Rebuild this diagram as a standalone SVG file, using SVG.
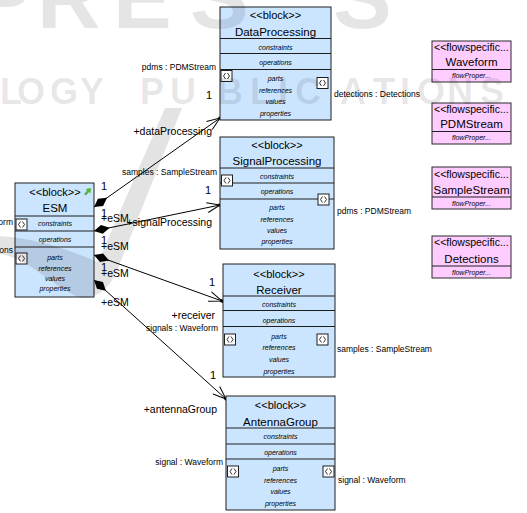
<svg xmlns="http://www.w3.org/2000/svg" width="527" height="513" viewBox="0 0 527 513">
  <style>
    .blk { fill: #cce5ff; stroke: #1e1e1e; stroke-width: 1; }
    .flow { fill: #ffccff; stroke: #2a2a2a; stroke-width: 1; }
    .sep { fill: none; stroke: #1e1e1e; stroke-width: 1; }
    .port { fill: #ffffff; stroke: #1e1e1e; stroke-width: 1; }
    .glyph { fill: none; stroke: #1e1e1e; stroke-width: 0.9; }
    text { font-family: "Liberation Sans", Arial, sans-serif; fill: #000; }
    .st { font-size: 11px; text-anchor: middle; }
    .nm { font-size: 11.5px; text-anchor: middle; }
    .cmp { font-size: 7px; font-style: italic; text-anchor: middle; }
    .role { font-size: 10.5px; }
    .mult { font-size: 11px; text-anchor: middle; }
    .pl { font-size: 8.5px; }
    .end { text-anchor: end; }
    .fs { font-size: 10.5px; }
    .conn { fill: none; stroke: #000; stroke-width: 1; }
    .wm { fill: #000; fill-opacity: 0.11; }
    .wmt { font-weight: bold; fill: #000; fill-opacity: 0.1; }
  </style>
  <defs>
    <!-- composite aggregation diamond at the whole end -->
    <marker id="diamond" viewBox="0 -5 16 10" refX="0" refY="0" markerWidth="16" markerHeight="10" markerUnits="userSpaceOnUse" orient="auto">
      <path d="M0,0 L8,-4.5 L16,0 L8,4.5 Z" fill="#000"/>
    </marker>
    <!-- open navigable arrow with anchor dot -->
    <marker id="open" viewBox="-15 -7 17 14" refX="0" refY="0" markerWidth="17" markerHeight="14" markerUnits="userSpaceOnUse" orient="auto">
      <path d="M-13,-5 L0,0 L-13,5" fill="none" stroke="#000" stroke-width="1"/>
      <rect x="-1.5" y="-1.5" width="3" height="3" fill="#000"/>
    </marker>
    <!-- flow port symbol -->
    <g id="port">
      <rect class="port" x="0" y="0" width="11" height="11"/>
      <path class="glyph" d="M4.5,2.5 L2.5,5.5 L4.5,8.5 M6.5,2.5 L8.5,5.5 L6.5,8.5"/>
    </g>
    <clipPath id="flowclip"><rect x="0" y="0" width="79" height="28"/></clipPath>
  </defs>

  <!-- connectors: part compositions from ESM -->
  <g id="connectors">
    <path class="conn" d="M94,207 L220,118" marker-start="url(#diamond)" marker-end="url(#open)"/>
    <path class="conn" d="M94,231 L220,205" marker-start="url(#diamond)" marker-end="url(#open)"/>
    <path class="conn" d="M94,255 L222,301" marker-start="url(#diamond)" marker-end="url(#open)"/>
    <path class="conn" d="M94,280 L226,399" marker-start="url(#diamond)" marker-end="url(#open)"/>

    <text class="mult" x="104" y="190">1</text>
    <text class="role" x="101" y="222">+eSM</text>
    <text class="mult" x="104" y="217">1</text>
    <text class="role" x="101" y="250">+eSM</text>
    <text class="mult" x="104" y="244">1</text>
    <text class="role" x="101" y="277">+eSM</text>
    <text class="mult" x="104" y="271">1</text>
    <text class="role" x="101" y="306">+eSM</text>

    <text class="role end" x="212" y="135">+dataProcessing</text>
    <text class="mult" x="209" y="99">1</text>
    <text class="role end" x="212" y="226">+signalProcessing</text>
    <text class="mult" x="208" y="194">1</text>
    <text class="mult" x="212" y="286">1</text>
    <text class="role end" x="215" y="319">+receiver</text>
    <text class="mult" x="213" y="379">1</text>
    <text class="role end" x="217" y="413">+antennaGroup</text>
  </g>

  <!-- ESM -->
  <g id="ESM" transform="translate(15,183)">
    <rect class="blk" width="79" height="114"/>
    <path class="sep" d="M0,33H79 M0,48H79 M0,64H79"/>
    <text class="st" x="40" y="13">&lt;&lt;block&gt;&gt;</text>
    <path d="M69,11 L72,7.5 L70.5,6 L76,5 L75.5,10.5 L74,9 L71,12.5 Z" fill="#5db14a"/>
    <text class="nm" x="40" y="29">ESM</text>
    <text class="cmp" x="40" y="42.5">constraints</text>
    <text class="cmp" x="40" y="59">operations</text>
    <text class="cmp" x="40" y="76.5">parts</text>
    <text class="cmp" x="40" y="87.5">references</text>
    <text class="cmp" x="40" y="97.5">values</text>
    <text class="cmp" x="40" y="108">properties</text>
    <use href="#port" x="1" y="36"/>
    <use href="#port" x="1" y="70"/>
    <text class="pl end" x="-2" y="42">orm</text>
    <text class="pl end" x="-2" y="70">ons</text>
  </g>

  <!-- DataProcessing -->
  <g id="DataProcessing" transform="translate(220,7)">
    <rect class="blk" width="111" height="113"/>
    <path class="sep" d="M0,31.5H111 M0,46.5H111 M0,62.5H111"/>
    <text class="st" x="55.5" y="12">&lt;&lt;block&gt;&gt;</text>
    <text class="nm" x="55.5" y="28.5">DataProcessing</text>
    <text class="cmp" x="55.5" y="43">constraints</text>
    <text class="cmp" x="55.5" y="58">operations</text>
    <text class="cmp" x="55.5" y="74">parts</text>
    <text class="cmp" x="55.5" y="85.5">references</text>
    <text class="cmp" x="55.5" y="97">values</text>
    <text class="cmp" x="55.5" y="109">properties</text>
    <use href="#port" x="1" y="63.5"/>
    <use href="#port" x="97" y="70.5"/>
    <text class="pl end" x="-4" y="63">pdms : PDMStream</text>
    <text class="pl" x="114" y="90">detections : Detections</text>
  </g>

  <!-- SignalProcessing -->
  <g id="SignalProcessing" transform="translate(220,137)">
    <rect class="blk" width="114" height="112"/>
    <path class="sep" d="M0,31H114 M0,46H114 M0,62H114"/>
    <text class="st" x="57" y="12">&lt;&lt;block&gt;&gt;</text>
    <text class="nm" x="57" y="28">SignalProcessing</text>
    <text class="cmp" x="57" y="42">constraints</text>
    <text class="cmp" x="57" y="57">operations</text>
    <text class="cmp" x="57" y="73">parts</text>
    <text class="cmp" x="57" y="84.5">references</text>
    <text class="cmp" x="57" y="96">values</text>
    <text class="cmp" x="57" y="107">properties</text>
    <use href="#port" x="1.5" y="38"/>
    <use href="#port" x="98" y="57"/>
    <text class="pl end" x="-3" y="38">samples : SampleStream</text>
    <text class="pl" x="117" y="77">pdms : PDMStream</text>
  </g>

  <!-- Receiver -->
  <g id="Receiver" transform="translate(223,264)">
    <rect class="blk" width="112" height="113"/>
    <path class="sep" d="M0,32H112 M0,46.5H112 M0,62.5H112"/>
    <text class="st" x="56" y="14">&lt;&lt;block&gt;&gt;</text>
    <text class="nm" x="56" y="30">Receiver</text>
    <text class="cmp" x="56" y="42.5">constraints</text>
    <text class="cmp" x="56" y="59">operations</text>
    <text class="cmp" x="56" y="74.5">parts</text>
    <text class="cmp" x="56" y="86">references</text>
    <text class="cmp" x="56" y="97.5">values</text>
    <text class="cmp" x="56" y="109.5">properties</text>
    <use href="#port" x="1.5" y="70"/>
    <use href="#port" x="94" y="70"/>
    <text class="pl end" x="-5" y="67">signals : Waveform</text>
    <text class="pl" x="114" y="88">samples : SampleStream</text>
  </g>

  <!-- AntennaGroup -->
  <g id="AntennaGroup" transform="translate(226,396)">
    <rect class="blk" width="109" height="114"/>
    <path class="sep" d="M0,32H109 M0,48H109 M0,63H109"/>
    <text class="st" x="54.5" y="13">&lt;&lt;block&gt;&gt;</text>
    <text class="nm" x="54.5" y="30">AntennaGroup</text>
    <text class="cmp" x="54.5" y="43">constraints</text>
    <text class="cmp" x="54.5" y="58.5">operations</text>
    <text class="cmp" x="54.5" y="74.5">parts</text>
    <text class="cmp" x="54.5" y="86.5">references</text>
    <text class="cmp" x="54.5" y="97.5">values</text>
    <text class="cmp" x="54.5" y="109.5">properties</text>
    <use href="#port" x="1.5" y="70"/>
    <use href="#port" x="97" y="70"/>
    <text class="pl end" x="-3" y="69">signal : Waveform</text>
    <text class="pl" x="112" y="87">signal : Waveform</text>
  </g>

  <!-- flow specifications -->
  <g id="Waveform" transform="translate(432,41)">
    <rect class="flow" width="79" height="41"/>
    <path class="sep" d="M0,28.5H79"/>
    <text class="fs" x="2" y="10" clip-path="url(#flowclip)">&lt;&lt;flowspecific...</text>
    <text class="nm" x="39.5" y="25">Waveform</text>
    <text class="cmp" x="39.5" y="37">flowProper...</text>
  </g>
  <g id="PDMStream" transform="translate(432,103)">
    <rect class="flow" width="79" height="41"/>
    <path class="sep" d="M0,28.5H79"/>
    <text class="fs" x="2" y="10" clip-path="url(#flowclip)">&lt;&lt;flowspecific...</text>
    <text class="nm" x="39.5" y="25">PDMStream</text>
    <text class="cmp" x="39.5" y="37">flowProper...</text>
  </g>
  <g id="SampleStream" transform="translate(432,167)">
    <rect class="flow" width="79" height="42"/>
    <path class="sep" d="M0,30H79"/>
    <text class="fs" x="2" y="11" clip-path="url(#flowclip)">&lt;&lt;flowspecific...</text>
    <text class="nm" x="39.5" y="27">SampleStream</text>
    <text class="cmp" x="39.5" y="38.5">flowProper...</text>
  </g>
  <g id="Detections" transform="translate(432,236)">
    <rect class="flow" width="79" height="42"/>
    <path class="sep" d="M0,30H79"/>
    <text class="fs" x="2" y="10" clip-path="url(#flowclip)">&lt;&lt;flowspecific...</text>
    <text class="nm" x="39.5" y="27">Detections</text>
    <text class="cmp" x="39.5" y="38.5">flowProper...</text>
  </g>

  <!-- publisher watermark laid over the page -->
  <g id="watermark">
    <text class="wmt" font-size="88" x="-26 37 113 190 333" y="28">PRESS</text>
    <text class="wmt" font-size="36" x="0 17 50 80 110 140 170 217 250 278 295 340 373 400 417 447 480" y="104">LOGY PUBLICATIONS</text>
    <path class="wm" d="M165,108 L182,108 L118,268 C112,285 100,298 82,298 C55,290 30,258 0,254 L0,236 C35,238 70,250 98,262 Z"/>
  </g>
</svg>
